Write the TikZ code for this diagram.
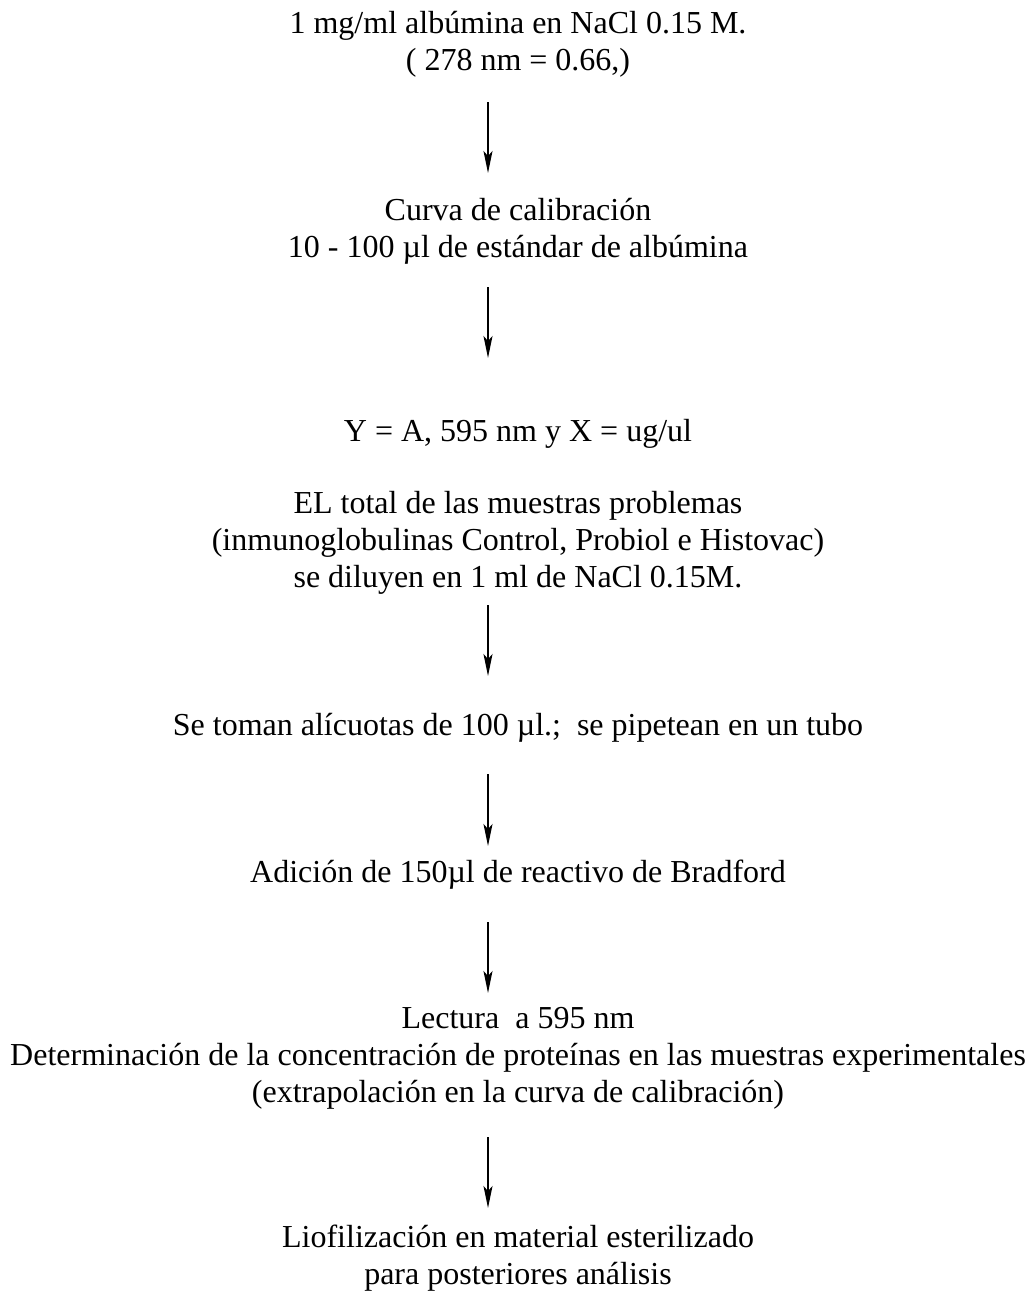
\documentclass[tikz,border=0pt]{standalone}
\usepackage{fontspec}
\setmainfont{Liberation Serif}
\usetikzlibrary{arrows.meta}
\begin{document}
\begin{tikzpicture}[x=1pt,y=-1pt,
  txt/.style={inner sep=0pt, anchor=base, align=center,
    font=\fontsize{32}{36.8}\selectfont\frenchspacing},
  flow/.style={line width=1.7pt, -{Stealth[length=22pt,width=9pt,inset=5pt]}}]
\useasboundingbox (0,0) rectangle (1035,1294);
% anchor=base of a multi-line node = baseline of its last line
\node[txt] (n1) at (518,70) {1 mg/ml albúmina en NaCl 0.15 M.\\( 278 nm = 0.66,)};
\node[txt] (n2) at (518,257) {Curva de calibración\\10 - 100 µl de estándar de albúmina};
\node[txt] (n3) at (518,441) {Y = A, 595 nm y X = ug/ul};
\node[txt] (n4) at (518,587) {EL total de las muestras problemas\\(inmunoglobulinas Control, Probiol e Histovac)\\se diluyen en 1 ml de NaCl 0.15M.};
\node[txt] (n5) at (518,735) {Se toman alícuotas de 100 µl.;\ \ se pipetean en un tubo};
\node[txt] (n6) at (518,882) {Adición de 150µl de reactivo de Bradford};
\node[txt] (n7) at (518,1102) {Lectura\ \ a 595 nm\\Determinación de la concentración de proteínas en las muestras experimentales\\(extrapolación en la curva de calibración)};
\node[txt] (n8) at (518,1284) {Liofilización en material esterilizado\\para posteriores análisis};
\coordinate (a1s) at (488,102);  \coordinate (a1e) at (488,173);
\coordinate (a2s) at (488,287);  \coordinate (a2e) at (488,358);
\coordinate (a3s) at (488,605);  \coordinate (a3e) at (488,676);
\coordinate (a4s) at (488,774);  \coordinate (a4e) at (488,846);
\coordinate (a5s) at (488,922);  \coordinate (a5e) at (488,993);
\coordinate (a6s) at (488,1137); \coordinate (a6e) at (488,1208);
\draw[flow] (a1s) -- (a1e);
\draw[flow] (a2s) -- (a2e);
\draw[flow] (a3s) -- (a3e);
\draw[flow] (a4s) -- (a4e);
\draw[flow] (a5s) -- (a5e);
\draw[flow] (a6s) -- (a6e);
\end{tikzpicture}
\end{document}
